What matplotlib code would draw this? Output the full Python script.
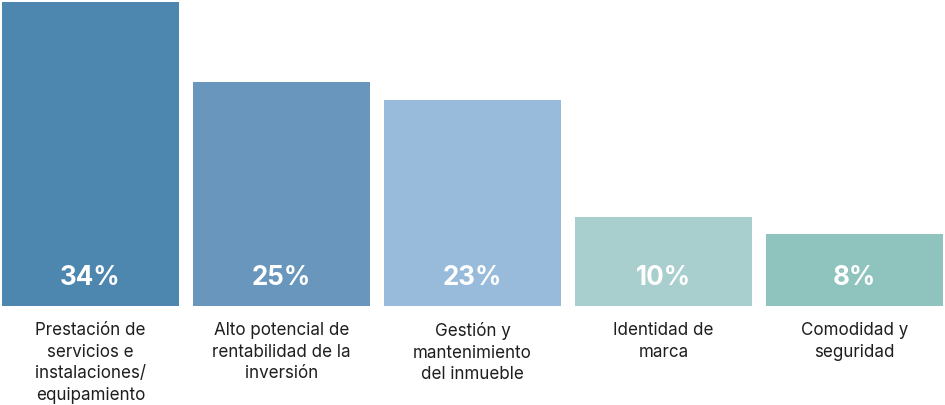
import matplotlib
matplotlib.use("Agg")
import matplotlib.pyplot as plt

categories = [
    "Prestación de\nservicios e\ninstalaciones/\nequipamiento",
    "Alto potencial de\nrentabilidad de la\ninversión",
    "Gestión y\nmantenimiento\ndel inmueble",
    "Identidad de\nmarca",
    "Comodidad y\nseguridad",
]
values = [34, 25, 23, 10, 8]
value_labels = ["34%", "25%", "23%", "10%", "8%"]
colors = ["#4d87b0", "#6896bd", "#98bbdc", "#a8cecd", "#8fc3bd"]

DPI = 72
fig = plt.figure(figsize=(945 / DPI, 405 / DPI), dpi=DPI)
ax = fig.add_axes([2 / 945, (405 - 306) / 405, 941 / 945, 304 / 405])

width = 177 / 191
x = list(range(len(values)))
ax.bar(x, values, width=width, color=colors)
ax.set_xlim(-width / 2, len(values) - 1 + width / 2)
ax.set_ylim(0, 34)
ax.axis("off")

for xi, lab in zip(x, value_labels):
    ax.annotate(lab, (xi, 0), xytext=(0, 21), textcoords="offset pixels",
                ha="center", va="baseline", color="white",
                fontsize=26, fontweight="bold", family=["Inter", "DejaVu Sans"])

for xi, cat in zip(x, categories):
    ax.annotate(cat, (xi, 0), xytext=(0, -16), textcoords="offset pixels",
                ha="center", va="top", color="#1e1e1e", linespacing=1.35,
                fontsize=17, family=["Inter", "DejaVu Sans"],
                annotation_clip=False)

fig.savefig("out.png", dpi=DPI, facecolor="white")
